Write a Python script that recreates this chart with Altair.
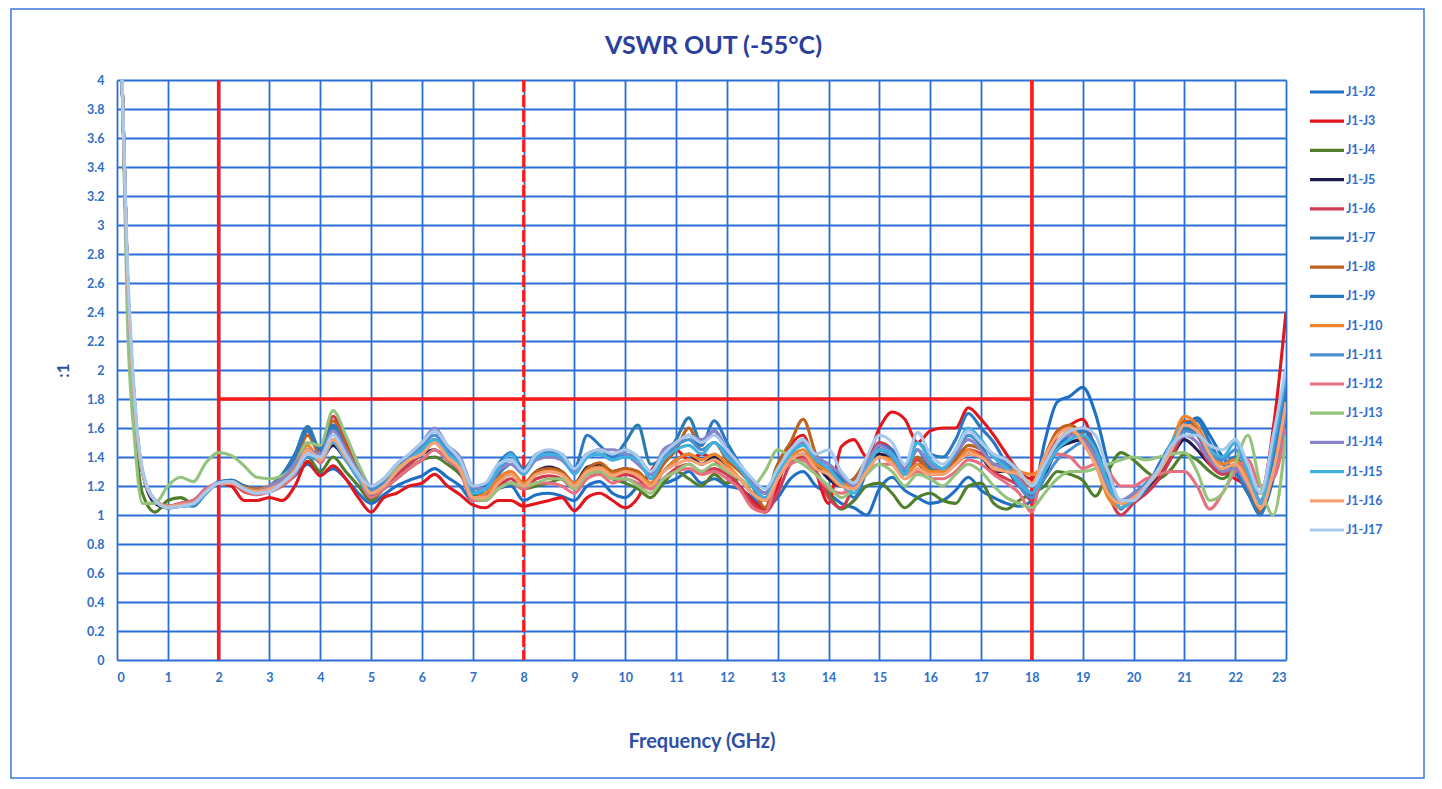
import altair as alt
import pandas as pd

# Frequency sweep points (GHz)
freq = [0.1, 0.2, 0.35, 0.5] + [0.75 + 0.25 * i for i in range(90)]

names = ["J1-J2", "J1-J3", "J1-J4", "J1-J5", "J1-J6", "J1-J7", "J1-J8", "J1-J9",
         "J1-J10", "J1-J11", "J1-J12", "J1-J13", "J1-J14", "J1-J15", "J1-J16", "J1-J17"]
colors = ["#1f6fc5", "#e3161e", "#4f7f2a", "#1f1d4d", "#d03a52", "#2b7bb0", "#c0621c", "#2a79c2",
          "#f0842c", "#4a8fd2", "#e6707f", "#94c47c", "#8a85c8", "#3fb0e0", "#f5a274", "#a9c9ec"]

J2 = [4.0, 2.7, 1.75, 1.3, 1.1,
      1.06, 1.07, 1.06, 1.15,  1.22, 1.23, 1.17, 1.15,  1.16, 1.2, 1.27, 1.35,  1.28, 1.32, 1.25, 1.15,
      1.08, 1.14, 1.2, 1.24,  1.27, 1.32, 1.26, 1.2,  1.1, 1.12, 1.18, 1.2,  1.1, 1.14, 1.15, 1.13,
      1.1, 1.2, 1.23, 1.15,  1.12, 1.2, 1.28, 1.22,  1.25, 1.3, 1.22, 1.25,  1.2, 1.18, 1.12, 1.05,
      1.12, 1.25, 1.3, 1.2,  1.15, 1.08, 1.05, 1.0,  1.18, 1.26, 1.17, 1.12,  1.08, 1.1, 1.17, 1.26,
      1.17, 1.12, 1.08, 1.06,  1.1, 1.5, 1.78, 1.82,  1.88, 1.7, 1.35, 1.04,  1.15, 1.2, 1.3, 1.45,
      1.6, 1.67, 1.55, 1.4,  1.3, 1.15, 1.02, 1.25,  1.65]
J3 = [4.0, 2.7, 1.75, 1.3, 1.1,
      1.05, 1.06, 1.08, 1.15,  1.22, 1.2, 1.1, 1.1,  1.12, 1.1, 1.2, 1.37,  1.27, 1.34, 1.25, 1.12,
      1.02, 1.12, 1.15, 1.2,  1.22, 1.28, 1.2, 1.14,  1.07, 1.05, 1.1, 1.1,  1.06, 1.08, 1.1, 1.12,
      1.03, 1.12, 1.15, 1.1,  1.05, 1.12, 1.3, 1.4,  1.45, 1.38, 1.42, 1.38,  1.3, 1.2, 1.1, 1.04,
      1.2, 1.48, 1.55, 1.3,  1.08, 1.47, 1.52, 1.4,  1.6, 1.71, 1.66, 1.5,  1.58, 1.6, 1.6, 1.74,
      1.66, 1.55, 1.42, 1.3,  1.25, 1.35, 1.55, 1.62,  1.66, 1.45, 1.2, 1.05,  1.1, 1.15, 1.25, 1.4,
      1.6, 1.55, 1.4, 1.3,  1.25, 1.2, 1.15, 1.6,  2.4]
J4 = [4.0, 2.6, 1.6, 1.15, 1.02,
      1.1, 1.12, 1.08, 1.17,  1.22, 1.23, 1.18, 1.15,  1.18, 1.2, 1.3, 1.4,  1.3, 1.4, 1.3, 1.2,
      1.1, 1.18, 1.25, 1.32,  1.38, 1.4, 1.35, 1.28,  1.15, 1.12, 1.2, 1.22,  1.18, 1.2, 1.22, 1.25,
      1.2, 1.28, 1.3, 1.25,  1.22, 1.18, 1.12, 1.22,  1.3, 1.25, 1.2, 1.28,  1.22, 1.25, 1.15, 1.1,
      1.35, 1.4, 1.38, 1.3,  1.15, 1.04, 1.1, 1.2,  1.22, 1.15, 1.05, 1.12,  1.15, 1.1, 1.08, 1.2,
      1.22, 1.08, 1.04, 1.1,  1.15, 1.2, 1.3, 1.28,  1.24, 1.13, 1.3, 1.43,  1.38, 1.3, 1.25, 1.32,
      1.42, 1.38, 1.3, 1.25,  1.3, 1.15, 1.1, 1.3,  1.65]
J5 = [4.0, 2.7, 1.75, 1.3, 1.08,
      1.05, 1.08, 1.1, 1.18,  1.22, 1.24, 1.2, 1.17,  1.18, 1.22, 1.32, 1.45,  1.38, 1.48, 1.38, 1.25,
      1.12, 1.2, 1.28, 1.35,  1.42, 1.45, 1.38, 1.3,  1.12, 1.15, 1.25, 1.28,  1.22, 1.3, 1.33, 1.3,
      1.22, 1.33, 1.35, 1.3,  1.32, 1.28, 1.2, 1.3,  1.38, 1.42, 1.35, 1.4,  1.32, 1.25, 1.15, 1.1,
      1.25, 1.38, 1.42, 1.35,  1.25, 1.2, 1.25, 1.35,  1.42, 1.38, 1.28, 1.35,  1.28, 1.3, 1.35, 1.42,
      1.4, 1.3, 1.3, 1.2,  1.15, 1.28, 1.45, 1.5,  1.52, 1.4, 1.2, 1.08,  1.12, 1.18, 1.28, 1.4,
      1.52, 1.45, 1.35, 1.3,  1.35, 1.2, 1.08, 1.35,  1.75]
J6 = [4.0, 2.7, 1.75, 1.3, 1.1,
      1.06, 1.08, 1.09, 1.17,  1.22, 1.22, 1.16, 1.14,  1.17, 1.22, 1.35, 1.58,  1.42, 1.68, 1.5, 1.3,
      1.15, 1.2, 1.28, 1.35,  1.42, 1.5, 1.42, 1.33,  1.1, 1.12, 1.2, 1.25,  1.18, 1.25, 1.27, 1.25,
      1.18, 1.28, 1.3, 1.25,  1.28, 1.25, 1.18, 1.25,  1.32, 1.35, 1.3, 1.32,  1.28, 1.2, 1.08, 1.02,
      1.15, 1.35, 1.4, 1.3,  1.12, 1.05, 1.2, 1.32,  1.5, 1.45, 1.3, 1.38,  1.3, 1.32, 1.38, 1.45,
      1.42, 1.3, 1.25, 1.2,  1.1, 1.3, 1.5, 1.58,  1.6, 1.42, 1.15, 1.0,  1.08, 1.15, 1.25, 1.4,
      1.55, 1.5, 1.35, 1.28,  1.32, 1.22, 1.1, 1.4,  1.8]
J7 = [4.0, 2.7, 1.75, 1.3, 1.1,
      1.06, 1.06, 1.08, 1.17,  1.22, 1.23, 1.18, 1.16,  1.2, 1.28, 1.42, 1.61,  1.45, 1.6, 1.45, 1.3,
      1.18, 1.22, 1.3, 1.38,  1.45, 1.52, 1.42, 1.35,  1.15, 1.15, 1.28, 1.35,  1.3, 1.4, 1.42, 1.4,
      1.3, 1.4, 1.45, 1.4,  1.5, 1.62, 1.35, 1.4,  1.52, 1.67, 1.5, 1.58,  1.45, 1.35, 1.22, 1.15,
      1.3, 1.45, 1.52, 1.4,  1.35, 1.25, 1.18, 1.35,  1.45, 1.42, 1.3, 1.45,  1.32, 1.3, 1.4, 1.55,
      1.48, 1.35, 1.35, 1.25,  1.2, 1.35, 1.48, 1.55,  1.6, 1.45, 1.25, 1.1,  1.12, 1.2, 1.3, 1.45,
      1.6, 1.58, 1.45, 1.35,  1.4, 1.25, 1.05, 1.4,  1.85]
J8 = [4.0, 2.7, 1.75, 1.3, 1.1,
      1.05, 1.07, 1.08, 1.16,  1.22, 1.23, 1.2, 1.18,  1.2, 1.25, 1.35, 1.55,  1.42, 1.65, 1.48, 1.3,
      1.15, 1.22, 1.3, 1.38,  1.45, 1.52, 1.4, 1.32,  1.12, 1.12, 1.25, 1.3,  1.22, 1.3, 1.32, 1.3,
      1.22, 1.32, 1.36, 1.3,  1.32, 1.3, 1.22, 1.35,  1.45, 1.6, 1.45, 1.5,  1.38, 1.3, 1.2, 1.05,
      1.35, 1.5, 1.66, 1.42,  1.28, 1.2, 1.25, 1.38,  1.45, 1.4, 1.3, 1.4,  1.3, 1.32, 1.38, 1.48,
      1.45, 1.32, 1.3, 1.25,  1.2, 1.4, 1.58, 1.62,  1.55, 1.38, 1.15, 1.05,  1.12, 1.2, 1.3, 1.45,
      1.65, 1.6, 1.42, 1.3,  1.35, 1.2, 1.02, 1.35,  1.75]
J9 = [4.0, 2.7, 1.75, 1.3, 1.1,
      1.06, 1.06, 1.07, 1.16,  1.23, 1.24, 1.2, 1.17,  1.18, 1.25, 1.4, 1.58,  1.45, 1.62, 1.45, 1.3,
      1.18, 1.22, 1.32, 1.4,  1.48, 1.58, 1.45, 1.38,  1.15, 1.2, 1.35, 1.43,  1.32, 1.42, 1.44, 1.42,
      1.32, 1.55, 1.48, 1.4,  1.45, 1.4, 1.3, 1.42,  1.5, 1.55, 1.48, 1.65,  1.5, 1.35, 1.2, 1.1,
      1.25, 1.42, 1.5, 1.38,  1.3, 1.22, 1.12, 1.3,  1.48, 1.45, 1.32, 1.5,  1.42, 1.4, 1.52, 1.7,
      1.6, 1.5, 1.35, 1.2,  1.15, 1.3, 1.45, 1.55,  1.58, 1.48, 1.22, 1.08,  1.1, 1.18, 1.35, 1.5,
      1.62, 1.65, 1.5, 1.35,  1.3, 1.15, 1.0, 1.4,  1.9]
J10 = [4.0, 2.7, 1.75, 1.3, 1.1,
       1.05, 1.07, 1.08, 1.16,  1.22, 1.23, 1.19, 1.17,  1.2, 1.25, 1.32, 1.48,  1.38, 1.52, 1.42, 1.28,
       1.15, 1.22, 1.32, 1.38,  1.45, 1.5, 1.4, 1.32,  1.12, 1.15, 1.25, 1.3,  1.22, 1.28, 1.3, 1.28,
       1.22, 1.3, 1.33, 1.28,  1.3, 1.28, 1.22, 1.3,  1.38, 1.42, 1.38, 1.42,  1.35, 1.25, 1.15, 1.1,
       1.28, 1.4, 1.45, 1.35,  1.3, 1.22, 1.2, 1.32,  1.4, 1.38, 1.28, 1.35,  1.3, 1.3, 1.35, 1.45,
       1.4, 1.35, 1.32, 1.3,  1.28, 1.35, 1.5, 1.58,  1.5, 1.35, 1.12, 1.05,  1.12, 1.22, 1.32, 1.5,
       1.68, 1.62, 1.45, 1.35,  1.38, 1.25, 1.05, 1.3,  1.72]
J11 = [4.0, 2.7, 1.75, 1.3, 1.1,
       1.05, 1.06, 1.07, 1.15,  1.22, 1.23, 1.18, 1.15,  1.17, 1.22, 1.3, 1.4,  1.38, 1.52, 1.4, 1.25,
       1.18, 1.22, 1.3, 1.4,  1.48, 1.55, 1.45, 1.35,  1.18, 1.18, 1.3, 1.38,  1.3, 1.4, 1.42, 1.38,
       1.3, 1.42, 1.42, 1.38,  1.42, 1.38, 1.28, 1.4,  1.48, 1.52, 1.45, 1.5,  1.42, 1.32, 1.22, 1.15,
       1.3, 1.45, 1.5, 1.4,  1.35, 1.28, 1.2, 1.35,  1.45, 1.4, 1.3, 1.45,  1.35, 1.32, 1.42, 1.55,
       1.5, 1.4, 1.35, 1.2,  1.12, 1.25, 1.38, 1.45,  1.5, 1.4, 1.2, 1.1,  1.15, 1.22, 1.32, 1.48,
       1.58, 1.55, 1.42, 1.38,  1.45, 1.3, 1.1, 1.45,  1.95]
J12 = [4.0, 2.7, 1.75, 1.3, 1.1,
       1.06, 1.08, 1.1, 1.18,  1.22, 1.22, 1.17, 1.14,  1.16, 1.2, 1.28, 1.45,  1.36, 1.5, 1.38, 1.25,
       1.12, 1.18, 1.25, 1.32,  1.38, 1.45, 1.38, 1.3,  1.1, 1.1, 1.18, 1.22,  1.18, 1.22, 1.22, 1.2,
       1.15, 1.25, 1.28, 1.22,  1.25, 1.22, 1.18, 1.25,  1.3, 1.32, 1.28, 1.3,  1.25, 1.18, 1.05, 1.02,
       1.25, 1.35, 1.38, 1.28,  1.18, 1.15, 1.2, 1.3,  1.35, 1.35, 1.25, 1.3,  1.25, 1.25, 1.3, 1.38,
       1.35, 1.28, 1.22, 1.15,  1.02, 1.4, 1.42, 1.4,  1.32, 1.35, 1.3, 1.2,  1.2, 1.25, 1.28, 1.3,
       1.3, 1.2, 1.04, 1.15,  1.3, 1.38, 1.2, 1.25,  1.6]
J13 = [4.0, 2.4, 1.5, 1.08, 1.08,
       1.2, 1.26, 1.23, 1.36,  1.43, 1.41, 1.34, 1.26,  1.25, 1.27, 1.35, 1.5,  1.48, 1.72, 1.55, 1.35,
       1.2, 1.25, 1.32, 1.38,  1.45, 1.5, 1.4, 1.32,  1.12, 1.1, 1.18, 1.22,  1.2, 1.22, 1.25, 1.25,
       1.18, 1.28, 1.3, 1.25,  1.25, 1.2, 1.15, 1.25,  1.3, 1.35, 1.3, 1.35,  1.3, 1.25, 1.2, 1.3,
       1.45, 1.4, 1.35, 1.28,  1.2, 1.12, 1.18, 1.28,  1.35, 1.3, 1.2, 1.28,  1.25, 1.2, 1.28, 1.35,
       1.3, 1.2, 1.12, 1.08,  1.05, 1.15, 1.25, 1.3,  1.3, 1.32, 1.35, 1.38,  1.4, 1.38, 1.4, 1.42,
       1.43, 1.3, 1.1, 1.15,  1.35, 1.55, 1.2, 1.0,  1.55]
J14 = [4.0, 2.7, 1.75, 1.3, 1.1,
       1.06, 1.07, 1.08, 1.16,  1.22, 1.23, 1.18, 1.16,  1.2, 1.25, 1.35, 1.45,  1.42, 1.58, 1.45, 1.3,
       1.2, 1.25, 1.35, 1.42,  1.5, 1.6, 1.48, 1.4,  1.2, 1.18, 1.3, 1.35,  1.28, 1.38, 1.4, 1.38,
       1.3, 1.42, 1.45, 1.45,  1.42, 1.35, 1.28, 1.45,  1.5, 1.55, 1.52, 1.58,  1.45, 1.35, 1.22, 1.15,
       1.3, 1.45, 1.5, 1.4,  1.35, 1.28, 1.2, 1.35,  1.48, 1.42, 1.32, 1.45,  1.35, 1.32, 1.42, 1.52,
       1.45, 1.35, 1.32, 1.25,  1.15, 1.35, 1.5, 1.55,  1.52, 1.4, 1.2, 1.1,  1.15, 1.2, 1.3, 1.45,
       1.55, 1.5, 1.38, 1.3,  1.32, 1.2, 1.1, 1.3,  1.7]
J15 = [4.0, 2.7, 1.75, 1.3, 1.1,
       1.05, 1.06, 1.07, 1.15,  1.22, 1.23, 1.18, 1.15,  1.17, 1.22, 1.3, 1.42,  1.38, 1.5, 1.38, 1.25,
       1.15, 1.2, 1.3, 1.38,  1.45, 1.52, 1.42, 1.35,  1.15, 1.18, 1.32, 1.42,  1.28, 1.4, 1.42, 1.4,
       1.28, 1.4, 1.42, 1.38,  1.4, 1.38, 1.25, 1.38,  1.45, 1.48, 1.42, 1.5,  1.4, 1.32, 1.2, 1.12,
       1.28, 1.42, 1.48, 1.38,  1.32, 1.22, 1.15, 1.32,  1.45, 1.42, 1.28, 1.5,  1.38, 1.32, 1.45, 1.6,
       1.52, 1.4, 1.32, 1.22,  1.15, 1.3, 1.45, 1.52,  1.55, 1.45, 1.22, 1.05,  1.1, 1.2, 1.32, 1.5,
       1.62, 1.58, 1.45, 1.4,  1.5, 1.3, 1.08, 1.5,  1.98]
J16 = [4.0, 2.7, 1.75, 1.3, 1.1,
       1.06, 1.07, 1.08, 1.16,  1.22, 1.22, 1.18, 1.16,  1.18, 1.22, 1.3, 1.45,  1.38, 1.52, 1.4, 1.28,
       1.15, 1.2, 1.3, 1.38,  1.42, 1.5, 1.4, 1.32,  1.12, 1.12, 1.22, 1.28,  1.2, 1.28, 1.3, 1.28,
       1.2, 1.3, 1.32, 1.27,  1.3, 1.27, 1.2, 1.3,  1.35, 1.38, 1.35, 1.38,  1.32, 1.25, 1.15, 1.1,
       1.25, 1.38, 1.42, 1.32,  1.28, 1.2, 1.18, 1.3,  1.4, 1.35, 1.25, 1.32,  1.28, 1.28, 1.35, 1.42,
       1.4, 1.32, 1.3, 1.28,  1.22, 1.4, 1.55, 1.6,  1.5, 1.35, 1.15, 1.08,  1.12, 1.2, 1.3, 1.45,
       1.62, 1.58, 1.42, 1.32,  1.35, 1.22, 1.05, 1.3,  1.78]
J17 = [4.0, 2.8, 1.8, 1.32, 1.1,
       1.05, 1.06, 1.08, 1.16,  1.22, 1.23, 1.18, 1.15,  1.16, 1.22, 1.3, 1.42,  1.4, 1.55, 1.42, 1.28,
       1.2, 1.25, 1.35, 1.42,  1.5, 1.58, 1.48, 1.38,  1.2, 1.22, 1.35, 1.38,  1.3, 1.42, 1.45, 1.42,
       1.32, 1.42, 1.45, 1.42,  1.45, 1.4, 1.3, 1.42,  1.5, 1.55, 1.5, 1.55,  1.45, 1.35, 1.25, 1.18,
       1.32, 1.45, 1.52, 1.42,  1.45, 1.3, 1.22, 1.4,  1.55, 1.5, 1.35, 1.57,  1.42, 1.35, 1.45, 1.58,
       1.5, 1.42, 1.38, 1.3,  1.2, 1.35, 1.5, 1.58,  1.6, 1.55, 1.3, 1.1,  1.1, 1.2, 1.32, 1.48,
       1.55, 1.55, 1.48, 1.45,  1.52, 1.35, 1.15, 1.55,  2.02]

series = [J2, J3, J4, J5, J6, J7, J8, J9, J10, J11, J12, J13, J14, J15, J16, J17]
for n, s in zip(names, series):
    assert len(s) == len(freq), (n, len(s), len(freq))

x_ticks = list(range(0, 24))
y_ticks = [0, 0.2, 0.4, 0.6, 0.8, 1, 1.2, 1.4, 1.6, 1.8, 2, 2.2, 2.4, 2.6, 2.8, 3, 3.2, 3.4, 3.6, 3.8, 4]

title_text = "VSWR OUT (-55°C)"

# limit markers
v_solid = [2, 18]
v_dash = [8]
h_limit = [{"x": 2, "x2": 18, "y": 1.8}]

rows = []
for n, s in zip(names, series):
    for f, v in zip(freq, s):
        rows.append({"series": n, "freq": f, "vswr": v})
df = pd.DataFrame(rows)

BLUE = "#2a6fd8"
FONT = "Lato"
W, H = 1169, 580

xscale = alt.Scale(domain=[0, 23], nice=False, zero=False)
yscale = alt.Scale(domain=[0, 4], nice=False)
cscale = alt.Scale(domain=names, range=colors)

xaxis = alt.Axis(values=x_ticks, grid=True, gridColor=BLUE, gridWidth=1.8, domain=False, ticks=False,
                 labelColor="#2d6fc6", labelFont=FONT, labelFontWeight="bold", labelFontSize=12.5,
                 labelPadding=11, labelOverlap=False, title="Frequency (GHz)", titleFont=FONT,
                 titleFontSize=20, titleFontWeight="bold", titleColor="#2e4fa6", titlePadding=48)
yaxis = alt.Axis(values=y_ticks, format="~f", grid=True, gridColor=BLUE, gridWidth=1.8, domain=False,
                 ticks=False, labelColor="#2d6fc6", labelFont=FONT, labelFontWeight="bold",
                 labelFontSize=12.5, labelPadding=13, labelOverlap=False, title=":1", titleFont=FONT,
                 titleFontSize=17, titleFontWeight="bold", titleColor="#2e4fa6", titlePadding=14)

one = pd.DataFrame({"t": [title_text]})

border = alt.Chart(one).mark_rect(
    fill=None, stroke="#3b78da", strokeWidth=1.5
).encode(x=alt.value(-106), x2=alt.value(1307), y=alt.value(-71), y2=alt.value(698))

title_mark = alt.Chart(one).mark_text(
    font=FONT, fontSize=25, fontWeight="bold", color="#2b3f9f", align="center", baseline="middle"
).encode(x=alt.value(W / 2 + 12), y=alt.value(-34), text="t:N")

base_rule = alt.Chart(pd.DataFrame({"x": v_solid})).mark_rule(color="#ff1a1a", strokeWidth=3.5).encode(
    x=alt.X("x:Q", scale=xscale, axis=xaxis)
)
dash_rule = alt.Chart(pd.DataFrame({"x": v_dash})).mark_rule(
    color="#ff1a1a", strokeWidth=3, strokeDash=[12, 3]
).encode(x=alt.X("x:Q", scale=xscale, axis=xaxis))
h_rule = alt.Chart(pd.DataFrame(h_limit)).mark_rule(color="#ff1a1a", strokeWidth=3.5).encode(
    x=alt.X("x:Q", scale=xscale, axis=xaxis), x2="x2:Q", y=alt.Y("y:Q", scale=yscale, axis=yaxis)
)

lines = alt.Chart(df).mark_line(strokeWidth=3.1, interpolate="monotone", clip=True).encode(
    x=alt.X("freq:Q", scale=xscale, axis=xaxis),
    y=alt.Y("vswr:Q", scale=yscale, axis=yaxis),
    color=alt.Color("series:N", scale=cscale, legend=None),
    detail="series:N",
)

leg_df = pd.DataFrame({"series": names})
leg_y = alt.Y("series:N", sort=names, axis=None,
              scale=alt.Scale(type="point", range=[12, 450], padding=0))
leg_lines = alt.Chart(leg_df).mark_rule(strokeWidth=3.2).encode(
    x=alt.value(1193), x2=alt.value(1227), y=leg_y,
    color=alt.Color("series:N", scale=cscale, legend=None),
)
leg_text = alt.Chart(leg_df).mark_text(
    align="left", baseline="middle", font=FONT, fontWeight="bold", fontSize=12.5, color="#2f6fd0"
).encode(x=alt.value(1229), y=leg_y, text="series:N")

main = alt.layer(border, title_mark, base_rule, dash_rule, h_rule, lines)
legend = alt.layer(leg_lines, leg_text)
chart = alt.layer(main, legend).resolve_scale(y="independent").properties(
    width=W, height=H,
    padding={"left": 109, "top": 72, "right": 140, "bottom": 120},
    autosize=alt.AutoSizeParams(type="none"),
).configure_view(stroke=BLUE, strokeWidth=2).configure(background="white")

chart.save("out.html", embed_options={"renderer": "svg", "actions": False})
